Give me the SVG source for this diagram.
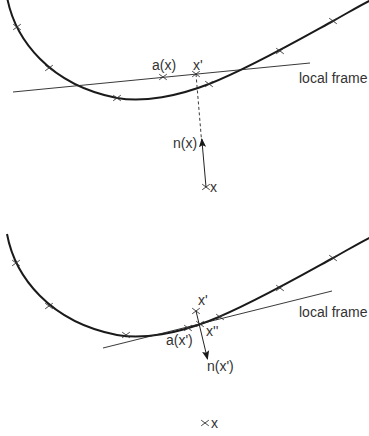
<svg xmlns="http://www.w3.org/2000/svg" xmlns:xlink="http://www.w3.org/1999/xlink" width="369" height="436" viewBox="0 0 369 436">
<style>
.curve{fill:none;stroke:#1a1a1a;stroke-width:2}
.frame{fill:none;stroke:#222;stroke-width:0.9}
.cx{fill:none;stroke:#333;stroke-width:0.9}
.lbl{font-family:"Liberation Sans",Arial,sans-serif;font-size:14px;fill:#333}
.dash{fill:none;stroke:#222;stroke-width:0.9;stroke-dasharray:3,2.5}
.arr{fill:none;stroke:#222;stroke-width:1}
</style>
<defs>
<path id="cross" d="M-3.8,-2.8L3.8,2.8M-3.8,2.8L3.8,-2.8"/>
<path id="crv" d="M7,-3 C15,40 50,85 117,98 C144,103 179,95.7 209,84 C249,68.4 303,37.5 333,21 C348,12.7 358,6.5 371,0"/>
<marker id="ah" viewBox="0 0 10 10" refX="9" refY="5" markerWidth="9" markerHeight="9" markerUnits="userSpaceOnUse" orient="auto">
<path d="M0,1 L10,5 L0,9 L2,5 Z" fill="#1a1a1a"/>
</marker>
</defs>

<!-- Top panel -->
<g id="top-curve">
<use xlink:href="#crv" class="curve"/>
<g class="cx">
<use xlink:href="#cross" x="17" y="27"/>
<use xlink:href="#cross" x="49" y="68"/>
<use xlink:href="#cross" x="117" y="98"/>
<use xlink:href="#cross" x="209" y="84"/>
<use xlink:href="#cross" x="280" y="51"/>
<use xlink:href="#cross" x="333" y="21"/>
</g>
</g>
<g id="top-frame">
<line class="frame" x1="13" y1="92" x2="310" y2="63"/>
<text class="lbl" x="299" y="83">local frame</text>
</g>
<g id="top-ax">
<use xlink:href="#cross" class="cx" x="163" y="77"/>
<text class="lbl" x="152" y="70">a(x)</text>
</g>
<g id="top-xp">
<use xlink:href="#cross" class="cx" x="196" y="74"/>
<text class="lbl" x="193" y="70">x'</text>
</g>
<g id="top-x">
<use xlink:href="#cross" class="cx" x="206" y="187"/>
<text class="lbl" x="210" y="192">x</text>
</g>
<g id="top-n">
<text class="lbl" x="173" y="148">n(x)</text>
</g>

<!-- Bottom panel -->
<g id="bottom-curve">
<use xlink:href="#crv" class="curve" transform="translate(0,237)"/>
<g class="cx">
<use xlink:href="#cross" x="16" y="263"/>
<use xlink:href="#cross" x="49" y="306"/>
<use xlink:href="#cross" x="126" y="335"/>
<use xlink:href="#cross" x="220" y="317"/>
<use xlink:href="#cross" x="280" y="288"/>
<use xlink:href="#cross" x="333" y="258"/>
</g>
</g>
<g id="bottom-frame">
<line class="frame" x1="103" y1="348" x2="332" y2="291"/>
<text class="lbl" x="299" y="317">local frame</text>
</g>
<g id="bottom-ax">
<use xlink:href="#cross" class="cx" x="188" y="328"/>
<text class="lbl" x="166" y="345">a(x')</text>
</g>
<g id="bottom-xp">
<use xlink:href="#cross" class="cx" x="196" y="311"/>
<text class="lbl" x="198" y="305">x'</text>
</g>
<g id="bottom-xpp">
<use xlink:href="#cross" class="cx" x="200" y="324"/>
<text class="lbl" x="206" y="336">x''</text>
</g>
<g id="bottom-n">
<text class="lbl" x="207" y="371">n(x')</text>
</g>
<g id="bottom-x">
<use xlink:href="#cross" class="cx" x="205" y="423"/>
<text class="lbl" x="211" y="428">x</text>
</g>

<g id="connectors">
<line class="dash" x1="196" y1="74" x2="201.5" y2="140"/>
<line class="arr" x1="206" y1="187" x2="201.8" y2="139" marker-end="url(#ah)"/>
<line class="arr" x1="196" y1="311" x2="207.5" y2="359" marker-end="url(#ah)"/>
</g>
</svg>
